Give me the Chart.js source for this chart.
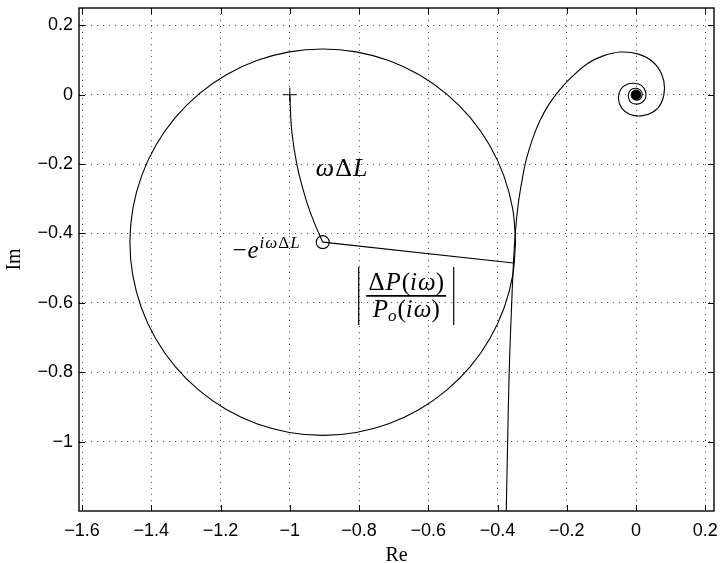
<!DOCTYPE html>
<html>
<head>
<meta charset="utf-8">
<script src="https://cdn.jsdelivr.net/npm/chart.js@4.4.0/dist/chart.umd.min.js"></script>
<style>
  html, body { margin: 0; padding: 0; background: #fff; }
  #wrap { width: 722px; height: 563px; }
</style>
</head>
<body>
<div id="wrap"><canvas id="nyquist" width="722" height="563"></canvas></div>
<script>
const xTicks = [-1.6, -1.4, -1.2, -1, -0.8, -0.6, -0.4, -0.2, 0, 0.2];
const yTicks = [-1, -0.8, -0.6, -0.4, -0.2, 0, 0.2];

// Nyquist curve of the loop (low to high frequency)
const loopRe = [-0.375, -0.372, -0.369, -0.365, -0.360, -0.355, -0.349, -0.341, -0.330, -0.318,
  -0.300, -0.278, -0.250, -0.220, -0.185, -0.140, -0.095, -0.045, 0.007, 0.048,
  0.074, 0.082, 0.073, 0.049, 0.015, -0.019, -0.042, -0.051, -0.044, -0.026,
  -0.005, 0.015, 0.027, 0.027, 0.016, 0.000, -0.015, -0.022, -0.020, -0.010,
  0.004, 0.015, 0.017, 0.010, -0.002, -0.012, -0.013, -0.006, 0.004, 0.008,
  0.005, -0.002, -0.005, 0];
const loopIm = [-1.20, -1.05, -0.90, -0.75, -0.62, -0.50, -0.40, -0.32, -0.25, -0.19,
  -0.13, -0.075, -0.025, 0.015, 0.052, 0.090, 0.112, 0.123, 0.117, 0.095,
  0.059, 0.018, -0.023, -0.050, -0.061, -0.056, -0.038, -0.010, 0.016, 0.030,
  0.033, 0.027, 0.010, -0.010, -0.023, -0.027, -0.022, -0.008, 0.008, 0.017,
  0.018, 0.010, -0.003, -0.013, -0.015, -0.008, 0.004, 0.011, 0.010, 0.002,
  -0.006, -0.007, -0.001, 0];

// disc of radius |ΔP/Po| around -e^{iωΔL}
const discRe = [-0.348, -0.3565, -0.3816, -0.4226, -0.4783, -0.5470, -0.6265, -0.7145, -0.8083, -0.905,
  -1.0017, -1.0955, -1.1835, -1.2630, -1.3317, -1.3874, -1.4284, -1.4535, -1.462,
  -1.4535, -1.4284, -1.3874, -1.3317, -1.2630, -1.1835, -1.0955, -1.0017, -0.905,
  -0.8083, -0.7145, -0.6265, -0.5470, -0.4783, -0.4226, -0.3816, -0.3565, -0.348];
const discIm = [-0.425, -0.3283, -0.2345, -0.1465, -0.0670, 0.0017, 0.0574, 0.0984, 0.1235, 0.132,
  0.1235, 0.0984, 0.0574, 0.0017, -0.0670, -0.1465, -0.2345, -0.3283, -0.425,
  -0.5217, -0.6155, -0.7035, -0.7830, -0.8517, -0.9074, -0.9484, -0.9735, -0.982,
  -0.9735, -0.9484, -0.9074, -0.8517, -0.7830, -0.7035, -0.6155, -0.5217, -0.425];

// path of -e^{iωΔL} from -1
const arcRe = [-1, -0.995, -0.98, -0.954, -0.929, -0.905];
const arcIm = [0, -0.1, -0.2, -0.3, -0.37, -0.425];

// radius to the touching point
const radRe = [-0.905, -0.354];
const radIm = [-0.425, -0.485];

const startPt = [-1, 0];
const centrePt = [-0.905, -0.425];
const originPt = [0, 0];

const pts = (xs, ys) => xs.map((v, i) => ({ x: v, y: ys[i] }));
const fmt = v => {
  const s = String(Math.round(v * 10) / 10);
  return s.replace('-', '\u2212');
};

const lineSet = (data, tension) => ({
  data, showLine: true, borderColor: '#000', borderWidth: 1.1,
  pointRadius: 0, tension, fill: false
});

function drawRuns(ctx, runs, x, y) {
  let cx = x;
  runs.forEach(r => {
    ctx.font = r.f;
    ctx.fillText(r.t, cx, y + (r.dy || 0));
    cx += ctx.measureText(r.t).width + (r.sp || 0);
  });
  return cx;
}
function runsWidth(ctx, runs) {
  let w = 0;
  runs.forEach(r => { ctx.font = r.f; w += ctx.measureText(r.t).width + (r.sp || 0); });
  return w;
}

const SERIF = '"Liberation Serif", "DejaVu Serif", serif';
const it = s => `italic ${s}px ${SERIF}`;
const up = s => `${s}px ${SERIF}`;

const framePlugin = {
  id: 'frame',
  afterDraw(chart) {
    const { ctx, chartArea: a, scales: { x, y } } = chart;
    ctx.save();
    ctx.strokeStyle = '#000';
    ctx.lineWidth = 1.4;
    ctx.strokeRect(a.left, a.top, a.right - a.left, a.bottom - a.top);
    ctx.lineWidth = 1;
    ctx.beginPath();
    x.ticks.forEach(t => {
      const px = Math.round(x.getPixelForValue(t.value)) + 0.5;
      ctx.moveTo(px, a.bottom); ctx.lineTo(px, a.bottom - 6);
      ctx.moveTo(px, a.top); ctx.lineTo(px, a.top + 6);
    });
    y.ticks.forEach(t => {
      const py = Math.round(y.getPixelForValue(t.value)) + 0.5;
      ctx.moveTo(a.left, py); ctx.lineTo(a.left + 6, py);
      ctx.moveTo(a.right, py); ctx.lineTo(a.right - 6, py);
    });
    ctx.stroke();

    // annotations
    ctx.fillStyle = '#000';
    ctx.textBaseline = 'alphabetic';
    ctx.textAlign = 'left';

    // ωΔL
    drawRuns(ctx, [
      { t: 'ω', f: it(26), sp: 1 }, { t: 'Δ', f: up(26), sp: 1 }, { t: 'L', f: it(26) }
    ], x.getPixelForValue(-0.925), y.getPixelForValue(-0.233));

    // −e^{iωΔL}
    const ex = x.getPixelForValue(-1.166), ey = y.getPixelForValue(-0.471);
    const after = drawRuns(ctx, [{ t: '\u2212', f: up(25), sp: 1 }, { t: 'e', f: it(25), sp: 1 }], ex, ey);
    drawRuns(ctx, [
      { t: 'i', f: it(17), sp: 1 }, { t: 'ω', f: it(17), sp: 1 },
      { t: 'Δ', f: up(17), sp: 1 }, { t: 'L', f: it(17) }
    ], after, ey - 10);

    // |ΔP(iω) / Po(iω)|
    const fx = x.getPixelForValue(-0.664), fy = y.getPixelForValue(-0.58);
    const num = [
      { t: 'Δ', f: up(25), sp: 1 }, { t: 'P', f: it(25), sp: 1 }, { t: '(', f: up(25) },
      { t: 'i', f: it(25), sp: 1 }, { t: 'ω', f: it(25) }, { t: ')', f: up(25) }
    ];
    drawRuns(ctx, num, fx - runsWidth(ctx, num) / 2, fy - 6);
    const den = [
      { t: 'P', f: it(25) }, { t: 'o', f: it(17), dy: 4, sp: 1 }, { t: '(', f: up(25) },
      { t: 'i', f: it(25), sp: 1 }, { t: 'ω', f: it(25) }, { t: ')', f: up(25) }
    ];
    drawRuns(ctx, den, fx - runsWidth(ctx, den) / 2, fy + 21);
    ctx.lineWidth = 1.6;
    ctx.beginPath();
    ctx.moveTo(fx - 40, fy); ctx.lineTo(fx + 40, fy);
    ctx.stroke();
    ctx.lineWidth = 1.2;
    ctx.beginPath();
    ctx.moveTo(fx - 47.5, fy - 29); ctx.lineTo(fx - 47.5, fy + 29);
    ctx.moveTo(fx + 47.5, fy - 29); ctx.lineTo(fx + 47.5, fy + 29);
    ctx.stroke();
    ctx.restore();
  }
};

const gridOpts = { color: '#555', lineWidth: 1, drawTicks: false };
const tickFont = { family: '"Liberation Sans", Arial, sans-serif', size: 18 };

new Chart(document.getElementById('nyquist'), {
  type: 'scatter',
  data: {
    datasets: [
      lineSet(pts(loopRe, loopIm), 0.35),
      lineSet(pts(discRe, discIm), 0.4),
      lineSet(pts(arcRe, arcIm), 0.3),
      lineSet(pts(radRe, radIm), 0),
      { data: [{ x: startPt[0], y: startPt[1] }], pointStyle: 'cross', pointRadius: 7,
        borderColor: '#000', borderWidth: 1, showLine: false },
      { data: [{ x: centrePt[0], y: centrePt[1] }], pointStyle: 'circle', pointRadius: 6.5,
        borderColor: '#000', backgroundColor: 'rgba(0,0,0,0)', borderWidth: 1.1, showLine: false },
      { data: [{ x: originPt[0], y: originPt[1] }], pointStyle: 'circle', pointRadius: 4.7,
        borderColor: '#000', backgroundColor: '#000', borderWidth: 1, showLine: false }
    ]
  },
  options: {
    responsive: false,
    animation: false,
    devicePixelRatio: 1,
    layout: { padding: { top: 7, right: 4.5, left: 0, bottom: 0 } },
    plugins: { legend: { display: false }, tooltip: { enabled: false } },
    scales: {
      x: {
        type: 'linear', position: 'bottom', min: -1.609, max: 0.225,
        afterBuildTicks: s => { s.ticks = xTicks.map(v => ({ value: v })); },
        afterFit: s => { s.height = 52; s.paddingLeft = 0; s.paddingRight = 0; },
        ticks: { color: '#000', font: tickFont, padding: 9, maxRotation: 0, callback: fmt },
        grid: gridOpts,
        border: { display: false, dash: [1, 5] },
        title: { display: true, text: 'Re', color: '#000', font: { family: SERIF, size: 20 }, padding: { top: 0, bottom: -5 } }
      },
      y: {
        type: 'linear', position: 'left', min: -1.2, max: 0.25,
        afterBuildTicks: s => { s.ticks = yTicks.map(v => ({ value: v })); },
        afterFit: s => { s.width = 79; s.paddingTop = 0; s.paddingBottom = 0; },
        ticks: { color: '#000', font: tickFont, padding: 6, callback: fmt },
        grid: gridOpts,
        border: { display: false, dash: [1, 5] },
        title: { display: true, text: 'Im', color: '#000', font: { family: SERIF, size: 20 }, padding: { top: 3, bottom: 0 } }
      }
    }
  },
  plugins: [framePlugin]
});
</script>
</body>
</html>
